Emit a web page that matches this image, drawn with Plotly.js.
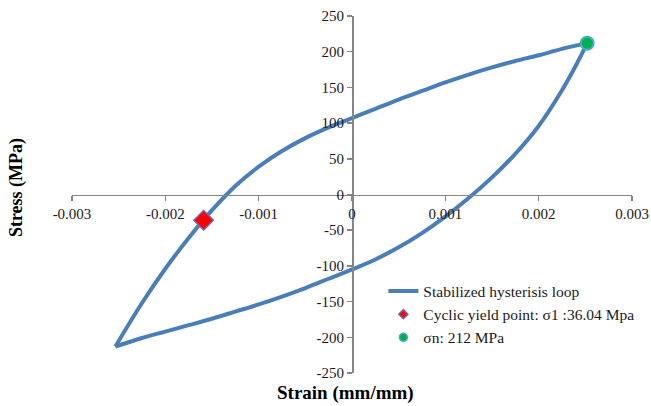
<!DOCTYPE html>
<html>
<head>
<meta charset="utf-8">
<script src="https://cdn.plot.ly/plotly-3.0.1.min.js"></script>
<style>
  html, body { margin: 0; padding: 0; background: #fff; }
  #chart { width: 651px; height: 406px; }
</style>
</head>
<body>
<div id="chart"></div>
<script>
// Ascending (upper) branch of the stabilized loop
const upperStrain = [-0.002535, -0.00225, -0.002, -0.00175, -0.0015, -0.00125, -0.001, -0.00075, -0.0005, -0.00025, 0,
                     0.00025, 0.0005, 0.00075, 0.001, 0.00125, 0.0015, 0.00175, 0.002, 0.00225, 0.00252];
const upperStress = [-213, -152, -104, -61, -22, 12, 39, 61, 79, 94, 107,
                     120, 133, 145, 157, 168, 178, 187, 195, 204, 212];
// Descending (lower) branch of the stabilized loop
const lowerStrain = [-0.002535, -0.00225, -0.002, -0.00175, -0.0015, -0.00125, -0.001, -0.00075, -0.0005, -0.00025, 0,
                     0.00025, 0.0005, 0.00075, 0.001, 0.00125, 0.0015, 0.00175, 0.002, 0.00225, 0.0024, 0.00252];
const lowerStress = [-213, -201, -192, -183, -174, -164, -154, -143, -131, -118, -105,
                     -91, -74, -54, -31, -5, 24, 57, 96, 146, 181, 212];
// Marked points
const yieldStrain = [-0.00159];
const yieldStress = [-36.04];
const peakStrain = [0.00252];
const peakStress = [212];
// Ticks
const xTickVals = [-0.003, -0.002, -0.001, 0, 0.001, 0.002, 0.003];
const xTickText = ["-0.003", "-0.002", "-0.001", "0", "0.001", "0.002", "0.003"];
const yTickVals = [-250, -200, -150, -100, -50, 0, 50, 100, 150, 200, 250];
const yTickText = ["-250", "-200", "-150", "-100", "-50", "0", "50", "100", "150", "200", "250"];
// Labels
const loopName = "Stabilized hysterisis loop";
const yieldName = "Cyclic yield point: σ1 :36.04 Mpa";
const peakName = "σn: 212 MPa";
const xTitle = "Strain (mm/mm)";
const yTitle = "Stress (MPa)";

const lineColor = "#4a7ebb";
const serif = "'Liberation Serif', 'Times New Roman', serif";

const traces = [
  { x: upperStrain, y: upperStress, mode: "lines", name: loopName, legendgroup: "loop",
    line: { color: lineColor, width: 4, shape: "spline", smoothing: 1 }, showlegend: true, cliponaxis: false },
  { x: lowerStrain, y: lowerStress, mode: "lines", name: loopName, legendgroup: "loop",
    line: { color: lineColor, width: 4, shape: "spline", smoothing: 1 }, showlegend: false, cliponaxis: false },
  { x: yieldStrain, y: yieldStress, mode: "markers", name: yieldName, showlegend: false, cliponaxis: false,
    marker: { symbol: "diamond", size: 15, color: "#ff0000", line: { color: "#7f5fa8", width: 1.5 } } },
  { x: peakStrain, y: peakStress, mode: "markers", name: peakName, showlegend: false, cliponaxis: false,
    marker: { symbol: "circle", size: 13, color: "#00b050", line: { color: "#4bacc6", width: 2 } } },
  // legend entries (small symbols as in the original legend)
  { x: [null], y: [null], mode: "markers", name: yieldName, showlegend: true,
    marker: { symbol: "diamond", size: 7, color: "#ff0000", line: { color: "#7f5fa8", width: 1.5 } } },
  { x: [null], y: [null], mode: "markers", name: peakName, showlegend: true,
    marker: { symbol: "circle", size: 8, color: "#00b050", line: { color: "#4bacc6", width: 1.5 } } }
];

const axisCommon = {
  showgrid: false, zeroline: false, showline: true,
  linecolor: "#868686", linewidth: 1.5,
  ticks: "outside", ticklen: 5, tickwidth: 1.5, tickcolor: "#868686",
  tickfont: { family: serif, size: 15, color: "#1a1a1a" },
  anchor: "free", position: 0.5, fixedrange: true
};

const layout = {
  width: 651, height: 406,
  margin: { l: 72, r: 18, t: 16, b: 33 },
  paper_bgcolor: "#ffffff", plot_bgcolor: "#ffffff",
  showlegend: true,
  xaxis: Object.assign({}, axisCommon, {
    range: [-0.003, 0.003], tickmode: "array", tickvals: xTickVals, ticktext: xTickText, domain: [0, 1]
  }),
  yaxis: Object.assign({}, axisCommon, {
    range: [-250, 250], tickmode: "array", tickvals: yTickVals, ticktext: yTickText, domain: [0, 1]
  }),
  legend: {
    x: 0.555, y: 0.276, xanchor: "left", yanchor: "top",
    bgcolor: "rgba(0,0,0,0)", borderwidth: 0,
    font: { family: serif, size: 15.5, color: "#1a1a1a" },
    traceorder: "normal", itemwidth: 30
  },
  annotations: [
    { text: xTitle, xref: "paper", yref: "paper", x: 0.488, y: -0.055, xanchor: "center", yanchor: "middle",
      showarrow: false, font: { family: serif, size: 19, color: "#000", weight: "bold" } },
    { text: yTitle, xref: "paper", yref: "paper", x: -0.1, y: 0.518, xanchor: "center", yanchor: "middle",
      textangle: -90, showarrow: false, font: { family: serif, size: 18, color: "#000", weight: "bold" } }
  ]
};

Plotly.newPlot("chart", traces, layout, { displayModeBar: false, staticPlot: true });
</script>
</body>
</html>
